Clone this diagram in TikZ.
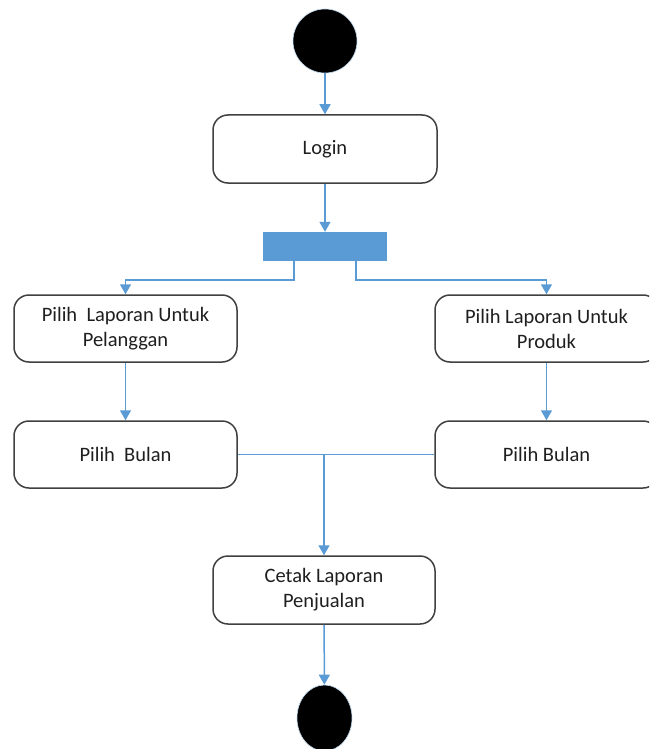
\documentclass[tikz,border=0pt]{standalone}
\usepackage{fontspec}
\setmainfont{Carlito}
\usetikzlibrary{arrows.meta,shapes.geometric}
\definecolor{flowblue}{HTML}{5B9BD5}
\definecolor{boxedge}{HTML}{404040}
\definecolor{txt}{HTML}{1F1F1F}
\tikzset{
  activity/.style={draw=boxedge, line width=1.5pt, rounded corners=15pt, fill=white,
    minimum width=223pt, minimum height=67pt, align=center, text=txt,
    font=\fontsize{20.5pt}{25pt}\selectfont, inner sep=0pt},
  startdot/.style={circle, fill=black, draw=flowblue!40, line width=0.6pt, minimum size=64pt, inner sep=0pt},
  enddot/.style={ellipse, fill=black, draw=flowblue!40, line width=0.6pt, minimum width=55pt, minimum height=66pt, inner sep=0pt},
  forkbar/.style={fill=flowblue, minimum width=124pt, minimum height=29pt, inner sep=0pt},
  flow/.style={draw=flowblue, line width=1.5pt},
  flowarrow/.style={flow, -{Triangle[width=11pt,length=10pt]}},
}
\begin{document}
\begin{tikzpicture}[x=1pt,y=-1pt]
  \useasboundingbox (0,0) rectangle (649,749);
  \clip (0,0) rectangle (649,749);
  \fill[white] (0,0) rectangle (649,749);

  % nodes
  \node[startdot] (start) at (325,41) {};
  \node[activity, minimum width=224pt, minimum height=68pt] (login) at (325,149) {Login};
  \node[forkbar] (fork) at (325,246.5) {};
  \node[activity] (lapcust) at (125.5,328.5) {Pilih\ \ Laporan Untuk\\Pelanggan};
  \node[activity] (lapprod) at (546.5,328.5) {Pilih Laporan Untuk\\Produk};
  \node[activity] (bulcust) at (125.5,454.5) {Pilih\ \ Bulan};
  \node[activity] (bulprod) at (546.5,454.5) {Pilih Bulan};
  \node[activity, minimum width=222pt, minimum height=68pt] (cetak) at (324,590) {Cetak Laporan\\Penjualan};
  \node[enddot] (finish) at (324.5,718) {};

  % connectors
  \draw[flowarrow] (start) -- (login);
  \draw[flowarrow] (login) -- (fork);
  \draw[flowarrow] ([xshift=-31pt]fork.south) -- ++(0,19) -| (lapcust.north);
  \draw[flowarrow] ([xshift=31pt]fork.south) -- ++(0,19) -| (lapprod.north);
  \draw[flowarrow] (lapcust) -- (bulcust);
  \draw[flowarrow] (lapprod) -- (bulprod);
  \draw[flow] (bulcust.east) -- (bulprod.west);
  \draw[flowarrow] (bulcust.east -| cetak.north) -- (cetak.north);
  \draw[flowarrow] (cetak) -- (finish);
\end{tikzpicture}
\end{document}
